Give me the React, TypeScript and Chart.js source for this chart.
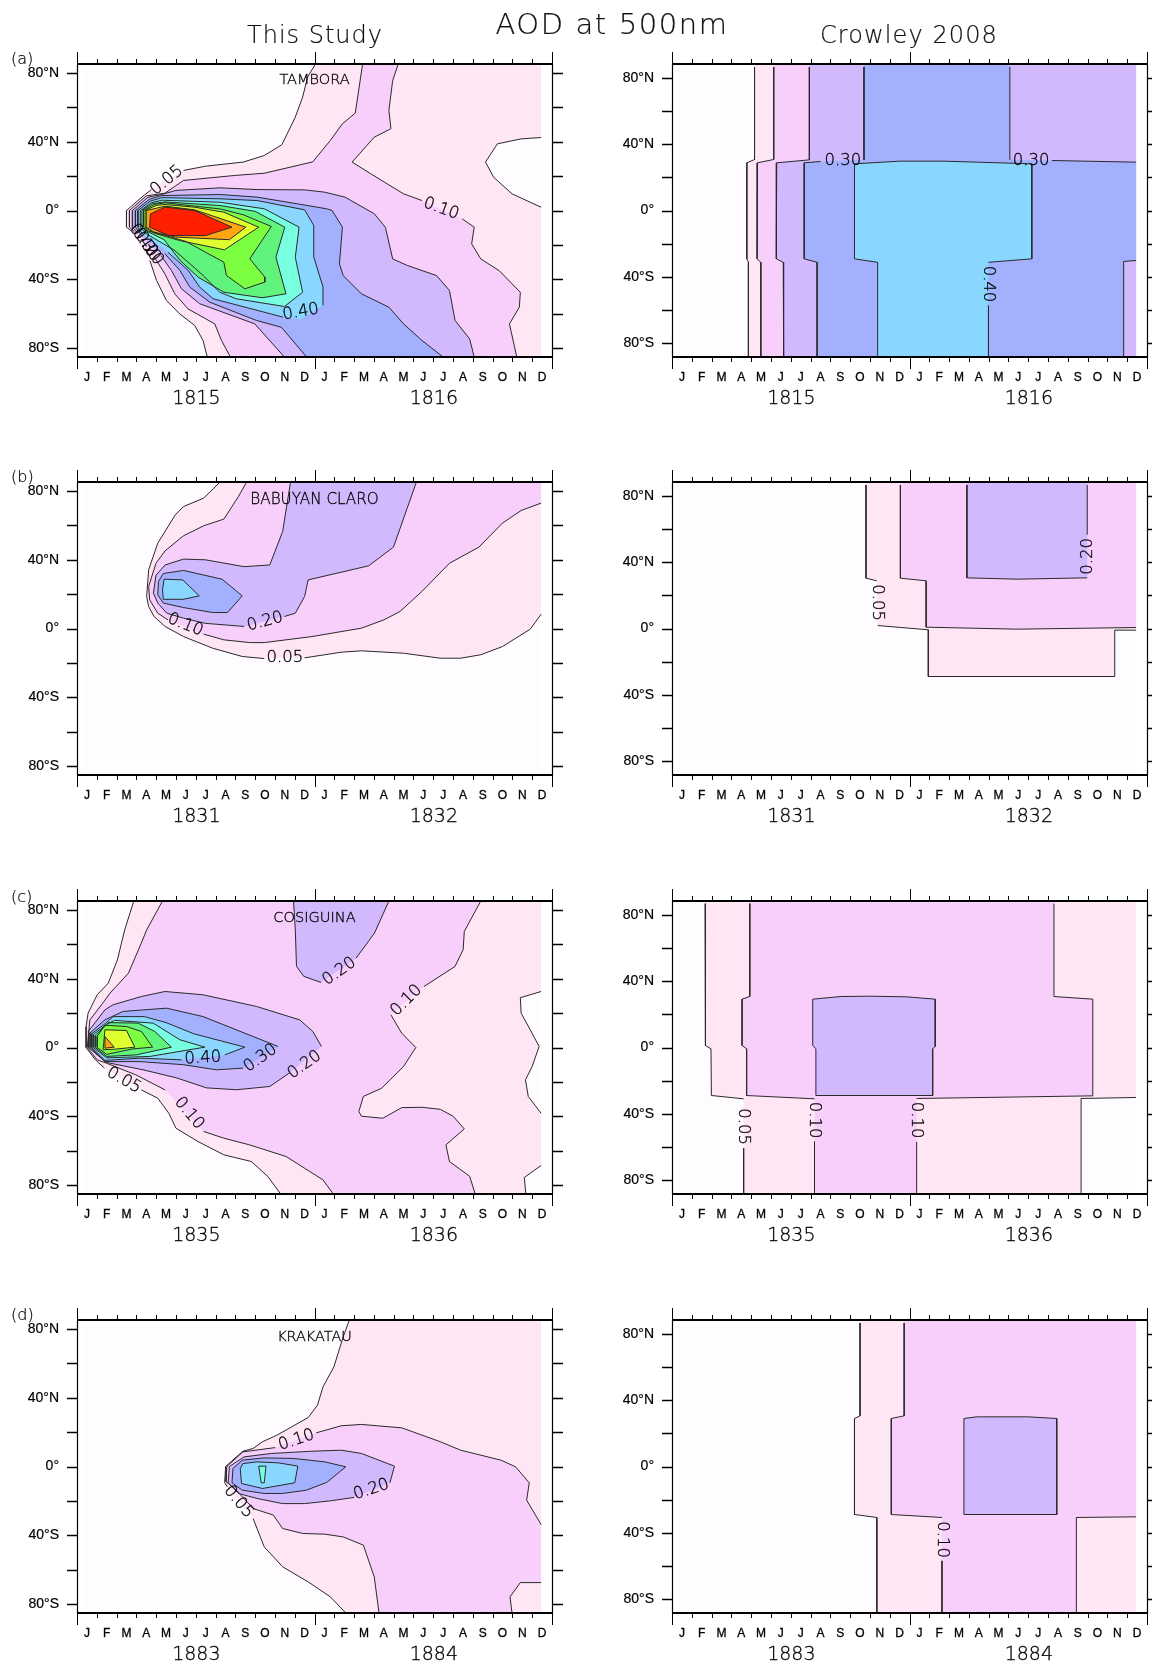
import React, { useEffect, useRef } from "react";
import { Chart, registerables } from "chart.js";

Chart.register(...registerables);

type Pt = [number, number];
type Edge = { edge: Pt[] };
type Piece = Pt[] | Edge;
type Region = { level: number; pieces: Piece[] };
type Lab = { text: string; x: number; lat: number; rot: number };

const edge = (...pts: Pt[]): Edge => ({ edge: pts });

const months = ["J", "F", "M", "A", "M", "J", "J", "A", "S", "O", "N", "D", "J", "F", "M", "A", "M", "J", "J", "A", "S", "O", "N", "D"];
const labelledLats = [80, 40, 0, -40, -80];
const minorLats = [60, 20, -20, -60];
const latNames: Record<string, string> = { "80": "80°N", "40": "40°N", "0": "0°", "-40": "40°S", "-80": "80°S" };
// fill per contour level: below .05, .05, .10, .20 ... 1.00
const levelColors = ["#FFFCFF", "#FFE6F5", "#F8CFFB", "#D2B8FC", "#A3B0FE", "#89D7FF", "#78FFDF", "#60F47C", "#7CFF40", "#E0FF30", "#FFA510", "#FF2000"];
const S = 0.28; // first data column
const E = 23.45; // last data column
const T = 85.3; // latitude limit, model panels
const R = 88.5; // latitude limit, Crowley panels

// ---------- (a) Tambora, this study
const tamboraModel: Region[] = [
  { level: 1, pieces: [
    [[12.05, T], [11.65, 77.7], [11.4, 66], [11.03, 54.4], [10.35, 38.3], [9.46, 32], [8.4, 28.2], [6.49, 25.8], [5.38, 23.3]],
    [[3.75, 12], [3.43, 9.3], [2.5, 0], [2.5, -9.7], [2.75, -12]],
    [[3.68, -29.1], [4.02, -40.8], [4.52, -52.4], [5.19, -60.2], [5.95, -67], [6.37, -75.7], [6.58, -T]],
    edge([E, -T], [E, T]),
  ] },
  { level: 0, pieces: [[[E, 42.5], [22.44, 41.7], [21.24, 38.8], [20.64, 28.2], [21.05, 19.4], [21.98, 9.7], [E, 1.9]]] },
  { level: 2, pieces: [
    [[14.43, T], [14.06, 56.7], [13.41, 50.5], [12.8, 40.8], [11.91, 28.3], [9.46, 21.7], [7.97, 20.4], [5.38, 17.5], [4.45, 10.1], [3.5, 8.5], [2.65, 0], [2.65, -9.7], [2.9, -12.5]],
    [[3.93, -27.6], [4.44, -36.9], [4.94, -48.5], [5.61, -57.3], [6.96, -66], [7.3, -75.7], [7.75, -T]],
    [[22.22, -T], [21.85, -66], [22.35, -56.3], [22.4, -47.6], [21.33, -35], [20.4, -28.2], [19.94, -19.4], [20.07, -9.7], [19.47, -4.9]],
    [[17.43, 5.8], [16.5, 9.7], [14.84, 21.4], [13.9, 28.2], [15.02, 42.7], [15.86, 47.6], [15.76, 58.3], [15.95, 75.7], [16.23, T]],
  ] },
  { level: 3, pieces: [
    [[20.07, -T], [19.84, -74.8], [19.1, -64], [18.82, -46.6], [18.17, -37.9], [16.69, -32], [15.95, -28.2], [15.58, -9.7], [15.02, -1.9], [13.54, 7.8], [12.5, 10.7], [11.5, 12], [9.09, 12.2], [7.23, 13.2], [5, 11.7], [4.27, 9.3], [3.58, 7.7], [2.8, 0], [2.8, -9.7], [3.05, -13]],
    [[4.24, -26.2], [4.77, -34.9], [5.28, -45.6], [6.2, -54.3], [8.98, -66], [10.48, -T]],
  ] },
  { level: 4, pieces: [
    [[18.5, -T], [17.43, -75.7], [16.5, -66], [15.76, -56.3], [14.37, -48.5], [13.45, -37.9], [13.26, -31.1], [13.41, -9.7], [12.89, 0], [12.61, 1], [11.13, 3.9], [9.09, 7.8], [7.23, 9.3], [4.27, 8.7], [3.65, 6.5], [2.95, 0], [2.95, -9.7], [3.2, -13.5]],
    [[4.44, -25.2], [5.2, -34.9], [5.7, -44.6], [6.71, -53.4], [9.06, -64], [10.33, -68], [11.6, -T]],
  ] },
  { level: 5, pieces: [
    [[12.43, -55.3], [12.43, -44.5], [11.96, -27], [11.96, -8.7], [11.5, 0.4], [9.09, 5.8], [7.23, 6.8], [4.3, 7.5], [3.7, 5.5], [3.08, 0], [3.08, -9.7], [3.3, -13.5]],
    [[4.6, -24.3], [5.62, -34.9], [6.2, -44.6], [6.88, -51.4], [10.41, -62.1]],
    edge([11.3, -63.5]),
  ] },
  { level: 6, pieces: [[[3.2, 0], [3.75, 4.5], [4.3, 6], [7.23, 4.8], [9.46, 1], [11.22, -9.7], [11.03, -27.2], [11.4, -47.6], [10.48, -55.9], [8.05, -51.4], [7.21, -47.6], [6.37, -37.8], [4.94, -23.3], [3.5, -13.5], [3.2, -9.7], [3.2, 0]]] },
  { level: 7, pieces: [[[3.28, 0], [3.8, 4], [4.45, 5], [7.23, 2.9], [9, -0.5], [10.5, -9.7], [10.05, -27.2], [10.56, -48.5], [9.36, -50.8], [7.42, -47.6], [6.12, -38.8], [5.2, -29], [4.4, -17], [3.6, -12.5], [3.28, -9.7], [3.28, 0]]] },
  { level: 8, pieces: [[[3.36, 0], [3.9, 3.5], [4.45, 4.5], [7.23, 0.9], [8.4, -2.5], [9.82, -9.3], [8.73, -28.1], [9.49, -38.8], [9.49, -41.7], [8.48, -45.6], [7.55, -37.8], [7.42, -30.1], [5.5, -18], [4.3, -14], [3.6, -12], [3.36, -9.7], [3.36, 0]]] },
  { level: 9, pieces: [[[3.44, 0], [4, 3], [4.45, 3.5], [5.94, 1.9], [7.42, -1], [9.18, -9.7], [7.45, -22.9], [5.19, -17.5], [3.9, -13.2], [3.44, -9.7], [3.44, 0]]] },
  { level: 10, pieces: [[[3.5, 0], [4.45, 2.5], [5.94, 0.4], [8.53, -9.7], [7.7, -17], [5, -15.5], [3.9, -12.6], [3.5, -9.7], [3.5, 0]]] },
  { level: 11, pieces: [[[3.71, -2], [4.45, 2], [5.94, 0], [7.83, -9.7], [6.49, -14.6], [4.64, -14.6], [3.67, -9.7], [3.71, -2]]] },
];
const tamboraModelLabels: Lab[] = [
  { text: "0.05", x: 4.54, lat: 17.5, rot: -40 },
  { text: "0.10", x: 18.4, lat: 1, rot: 20 },
  { text: "0.40", x: 11.31, lat: -59.2, rot: -10 },
  { text: "0.40", x: 3.35, lat: -17.5, rot: 55 },
  { text: "0.30", x: 3.5, lat: -20, rot: 55 },
  { text: "0.20", x: 3.65, lat: -22, rot: 55 },
];

// ---------- (a) Tambora, Crowley
const tamboraCrowley: Region[] = [
  { level: 1, pieces: [edge([4.17, R]), [[4.17, 86.7], [4.17, 30.8], [3.78, 28.8], [3.78, -29.2], [3.86, -31.3], [3.86, -R]], edge([E, -R], [E, R])] },
  { level: 2, pieces: [edge([5.14, R]), [[5.14, 86.7], [5.14, 30.8], [4.32, 28.8], [4.3, -29.2], [4.49, -31.3], [4.49, -R]], edge([E, -R], [E, R])] },
  { level: 3, pieces: [edge([6.94, R]), [[6.94, 86.7], [6.94, 30.6], [5.29, 28.8], [5.27, -29.2], [5.62, -31.3], [5.64, -R]], edge([E, -R], [E, R])] },
  { level: 4, pieces: [
    edge([9.7, R]), [[9.7, 86.7], [9.7, 30.6]],
    [[7.51, 29.6], [6.68, 28.8], [6.68, -29.2], [7.33, -31.3], [7.33, -R]],
    [[22.82, -R], [22.82, -30.8], [E, -30.2]],
    [[E, 29.2], [19.2, 30.2]],
    [[17.07, 30.6], [17.07, 86.7]], edge([17.07, R]),
  ] },
  { level: 5, pieces: [
    [[15.99, -57.5], [15.99, -R]],
    [[10.39, -R], [10.39, -31.3], [9.22, -29.2], [9.22, 28.2], [11.5, 29.8], [13.73, 29.8], [18.18, 28.2], [18.18, -29.2], [15.99, -31.3]],
  ] },
];
const tamboraCrowleyLabels: Lab[] = [
  { text: "0.30", x: 8.63, lat: 29.8, rot: 0 },
  { text: "0.30", x: 18.14, lat: 29.8, rot: 0 },
  { text: "0.40", x: 15.96, lat: -44.4, rot: 90 },
];

// ---------- (b) Babuyan Claro, this study
const babuyanModel: Region[] = [
  { level: 1, pieces: [
    [[7.23, T], [6.4, 75.9], [5.38, 71], [4.97, 66.2], [4.08, 49.7], [3.62, 34.2], [3.52, 18.6], [3.62, 12.8], [3.89, 7], [4.45, 1.2], [5.38, -4.7], [6.86, -11.5], [8.35, -16.3], [9.46, -17.5]],
    [[11.5, -17.1], [13.35, -13.8], [14.37, -13], [16.5, -14.4], [18.36, -17.3], [19.38, -17.3], [20.4, -15.3], [21.5, -10.5], [22.9, -0.4], [E, 8.3]],
    edge([E, T]),
  ] },
  { level: 2, pieces: [
    [[8.57, T], [8.16, 76.9], [7.42, 63.7], [6.4, 59.8], [5.38, 54], [4.45, 45.2], [3.99, 38], [3.62, 24.5], [3.67, 16.7], [4.08, 8.9], [4.6, 5]],
    [[6.4, -3.3], [7.42, -6.6], [8.72, -8.2], [9.46, -8.2], [11.87, -4.7], [14.37, 0.2], [15.5, 5], [16.32, 9.9], [17.43, 21.6], [18.82, 38], [20.31, 47.4], [21.5, 61.4], [22.44, 68.7], [E, 73]],
    edge([E, T]),
  ] },
  { level: 3, pieces: [
    [[10.79, T], [10.39, 56.5], [9.74, 37], [8.44, 36], [6.49, 40], [5.38, 40.4], [4.45, 37], [3.99, 31], [3.86, 20.6], [4.08, 14.8], [4.54, 8.9], [5.38, 6], [6.49, 3], [8.44, 1.2]],
    [[10.48, 7], [11.03, 8.9], [11.5, 18.6], [11.68, 28.3], [14.74, 36.5], [15.99, 47.4], [17.15, T]],
  ] },
  { level: 4, pieces: [[[4.36, 32], [5.38, 33.8], [7.33, 28.7], [8.35, 19], [7.6, 9.3], [6.86, 9.3], [5.38, 12.2], [4.36, 14.8], [4.08, 19.6], [4.12, 27.4], [4.36, 32]]] },
  { level: 5, pieces: [[[4.4, 28.7], [5.34, 28.3], [6.18, 19], [5.38, 17], [4.36, 17], [4.32, 22.5], [4.4, 28.7]]] },
];
const babuyanModelLabels: Lab[] = [
  { text: "0.10", x: 5.47, lat: 2.1, rot: 22 },
  { text: "0.20", x: 9.5, lat: 4, rot: -15 },
  { text: "0.05", x: 10.5, lat: -17.3, rot: 0 },
];

// ---------- (b) Babuyan Claro, Crowley
const babuyanCrowley: Region[] = [
  { level: 1, pieces: [edge([9.8, R]), [[9.8, 86.7], [9.8, 30.4], [10.35, 28.8]], [[10.39, 1.8], [12.95, -0.8], [12.95, -29], [22.37, -29], [22.37, -1], [E, -1]], edge([E, R])] },
  { level: 2, pieces: [edge([11.54, R]), [[11.54, 86.7], [11.54, 30.4], [12.84, 28.8], [12.84, 0.8], [17.44, -0.4], [E, 0.6]], edge([E, R])] },
  { level: 3, pieces: [edge([14.9, R]), [[14.9, 86.7], [14.9, 30.6], [17.44, 29.8], [20.98, 30.6]], [[20.98, 56.7], [20.98, 86.7]], edge([20.98, R])] },
];
const babuyanCrowleyLabels: Lab[] = [
  { text: "0.05", x: 10.39, lat: 15.7, rot: 90 },
  { text: "0.20", x: 20.98, lat: 43.5, rot: -90 },
];

// ---------- (c) Cosiguina, this study
const cosiguinaModel: Region[] = [
  { level: 1, pieces: [
    [[2.87, T], [2.41, 68.5], [2.04, 51], [1.58, 37.5], [1.02, 30.7], [0.56, 20], [0.46, 12.2], [0.46, 0], [0.93, -7.2], [1.39, -12]],
    [[3.25, -24.7], [4.08, -29.5], [4.64, -38.3], [5, -47], [6.12, -54.8], [7.42, -62.5], [8.81, -66.4], [9.64, -75.1], [10.29, -T]],
    edge([E, -T], [E, T]),
  ] },
  { level: 0, pieces: [[[E, 32.6], [22.4, 29], [22.44, 20], [22.9, 10.3], [23.35, 0.6], [23, -11], [22.66, -18.8], [22.8, -28.5], [E, -38.3]]] },
  { level: 0, pieces: [[[E, -68.7], [22.6, -75.7], [22.68, -T]], edge([E, -T])] },
  { level: 2, pieces: [
    [[4.32, T], [3.52, 68.5], [3.25, 60.8], [2.6, 43.3], [1.67, 31.7], [1.3, 25.8], [0.65, 16], [0.52, 0], [1.02, -7.2], [1.48, -9.1], [2.97, -15.9], [4.45, -24.7]],
    [[6.4, -48.9], [7.42, -52.8], [8.72, -56.7], [10.57, -63.5], [11.5, -70.3], [12.42, -77], [12.95, -T]],
    [[20.12, -T], [19.84, -75], [18.82, -66.4], [18.64, -56.7], [19.57, -47.4], [19, -40], [18.36, -36], [17.43, -34.8], [16.41, -35], [15.45, -41.2], [14.37, -40], [14.24, -37.3], [14.47, -28.5], [15.39, -23.7], [16.5, -11], [17.12, 0], [16.41, 8.3], [15.86, 19]],
    [[17.53, 35.5], [19.1, 47.2], [19.51, 56.9], [19.57, 67.6], [20.4, T]],
  ] },
  { level: 3, pieces: [
    [[12.35, 0.6], [11.92, 9.3], [11.25, 16.1], [9.07, 23.9], [6.36, 30.7], [4.44, 32.6], [3.26, 29.7], [1.82, 24.9], [1.41, 21.9], [0.58, 9.5], [0.58, 0], [1.48, -8.7], [3.34, -13], [5.03, -17.7], [6.54, -23.5], [8.05, -24.6], [9.74, -22.7], [10.75, -14.7]],
  ] },
  { level: 3, pieces: [
    [[10.94, T], [11.03, 68.5], [11.09, 47.2], [11.46, 41.4], [12.33, 37.9]],
    [[14.1, 52], [15.03, 66.6], [15.76, T]],
  ] },
  { level: 4, pieces: [
    [[10.16, 0.6], [6.37, 18], [4.52, 22.9], [2.33, 21], [1.41, 16.1], [0.66, 8.5], [0.66, 0], [1.41, -8.2], [3.17, -8.2], [5.36, -10], [7.05, -13], [8.39, -12]],
  ] },
  { level: 5, pieces: [
    [[8.48, 0.2], [5.9, 8], [4.5, 14.5], [3.4, 18], [1.83, 18], [1.46, 14.2], [0.74, 8], [0.74, 0], [1.41, -7.5], [3.17, -6.2], [5.28, -7.2]],
    [[7.47, -4.3], [8.48, 0.2]],
  ] },
  { level: 6, pieces: [[[6.46, 0.2], [5.2, 4.5], [3.85, 14.2], [1.9, 15.8], [1.5, 13.5], [0.82, 7.5], [0.82, 0], [1.5, -6], [3.68, -5.2], [6.46, 0.2]]] },
  { level: 7, pieces: [[[4.77, 0.2], [3.93, 9.3], [3.09, 14.2], [1.6, 14.5], [0.92, 7], [0.92, 0], [1.5, -5.2], [3, -4.3], [4.77, 0.2]]] },
  { level: 8, pieces: [[[3.82, 0.2], [3.26, 9.3], [2.5, 12.2], [1.41, 13], [1.02, 6.5], [1.02, 0], [1.5, -4], [2.83, -0.8], [3.82, 0.2]]] },
  { level: 9, pieces: [[[2.92, 0.2], [2.5, 9.9], [1.41, 10.3], [1.32, -1.3], [1.91, -1], [2.92, 0.2]]] },
  { level: 10, pieces: [[[1.41, 6.4], [1.88, 0.2], [1.41, -0.4], [1.41, 6.4]]] },
];
const cosiguinaModelLabels: Lab[] = [
  { text: "0.05", x: 2.37, lat: -19.2, rot: 30 },
  { text: "0.10", x: 5.66, lat: -38.3, rot: 50 },
  { text: "0.40", x: 6.36, lat: -6.2, rot: -3 },
  { text: "0.30", x: 9.27, lat: -6.2, rot: -35 },
  { text: "0.20", x: 11.5, lat: -10.1, rot: -35 },
  { text: "0.20", x: 13.26, lat: 44.3, rot: -35 },
  { text: "0.10", x: 16.65, lat: 27.4, rot: -45 },
];

// ---------- (c) Cosiguina, Crowley
const cosiguinaCrowley: Region[] = [
  { level: 1, pieces: [
    edge([1.67, R]), [[1.67, 86.9], [1.67, 29.8], [1.71, 1.2], [1.97, -0.8], [1.99, -29], [3.62, -31]],
    [[3.62, -60.9], [3.62, -R]],
    [[20.67, -R], [20.67, -30.8], [E, -30.2]], edge([E, R]),
  ] },
  { level: 2, pieces: [
    edge([3.93, R]), [[3.93, 86.9], [3.93, 30.8], [3.54, 29.2], [3.54, 1.2], [3.77, -0.8], [3.77, -29], [7.2, -31]],
    [[7.2, -56.9], [7.2, -R]],
    [[12.36, -R], [12.36, -56.9]],
    [[12.36, -30.8], [21.26, -29.2], [21.26, 29.2], [19.3, 30.8], [19.3, 86.9]], edge([19.3, R]),
  ] },
  { level: 3, pieces: [[[7.11, 29.2], [8.53, 30.8], [10.02, 31], [11.87, 30.6], [13.3, 29.2], [13.3, 0.6], [13.17, -0.8], [13.17, -29], [7.27, -29], [7.27, -0.8], [7.11, 1.2], [7.11, 29.2]]] },
];
const cosiguinaCrowleyLabels: Lab[] = [
  { text: "0.05", x: 3.62, lat: -47.8, rot: 90 },
  { text: "0.10", x: 7.2, lat: -43.8, rot: 90 },
  { text: "0.10", x: 12.36, lat: -43.8, rot: 90 },
];

// ---------- (d) Krakatau, this study
const krakatauModel: Region[] = [
  { level: 1, pieces: [
    [[13.76, T], [13.45, 75.5], [12.98, 58], [12.43, 46.4], [12.15, 35.7], [11.68, 28.5], [10.85, 23.1], [10.11, 18.3], [9.37, 14.4], [8.9, 10.5], [8.38, 8.9], [7.51, 0], [7.46, -9.3], [7.6, -12]],
    [[8.9, -30.3], [9.46, -46.8], [10.39, -58.4], [11.68, -67.2], [12.8, -75.9], [13.58, -T]],
    edge([E, -T], [E, T]),
  ] },
  { level: 2, pieces: [
    [[10.01, 11], [8.38, 8.5], [7.57, 0], [7.53, -8.9], [7.97, -12.8], [8.9, -24.5], [9.92, -28.3], [10.39, -36.1], [11.41, -39], [12.52, -39.4], [13.45, -41], [14.47, -45.8], [15.02, -64.3], [15.26, -T]],
    [[21.98, -T], [21.88, -75.9], [22.4, -67.6], [E, -67.6]],
    [[E, -33.8], [22.72, -19.6], [22.85, -9.5], [22.16, -0.2], [21.42, 3.7], [19.38, 9.5], [18.36, 14.4], [16.41, 22.5], [14.37, 24.5], [13.35, 23.7], [12.09, 19.6]],
  ] },
  { level: 3, pieces: [
    [[15.81, -9.5], [16.04, 0.2], [14.37, 7.6], [13.35, 9.5], [11.87, 8.9], [9.83, 7.6], [8.44, 5.6], [7.7, 0], [7.64, -9.5], [8.16, -15.7], [9.09, -18.6], [10.39, -21.6], [11.5, -21.6], [12.8, -20], [14, -18]],
  ] },
  { level: 4, pieces: [[[13.58, -0.2], [12.52, 2.7], [10.94, 4.7], [9.46, 5], [8.35, 3.7], [7.88, -1.2], [7.83, -9.5], [8.35, -13.8], [9.46, -15.7], [10.39, -15.7], [11.59, -13.8], [12.61, -9.3], [13.58, -0.2]]] },
  { level: 5, pieces: [[[11.16, 0.2], [10.2, 2.1], [9.09, 2.7], [8.38, 1.7], [8.25, -1.2], [8.31, -9.9], [9.37, -12.8], [11, -9.5], [11.16, 0.2]]] },
  { level: 6, pieces: [[[9.18, 0.2], [9.55, 0.2], [9.46, -9.5], [9.31, -9.5], [9.18, 0.2]]] },
];
const krakatauModelLabels: Lab[] = [
  { text: "0.10", x: 11.09, lat: 15.3, rot: -18 },
  { text: "0.20", x: 14.87, lat: -13.4, rot: -18 },
  { text: "0.05", x: 8.16, lat: -20.6, rot: 50 },
];

// ---------- (d) Krakatau, Crowley
const krakatauCrowley: Region[] = [
  { level: 1, pieces: [edge([9.5, R]), [[9.5, 86.7], [9.5, 30.6], [9.22, 29], [9.22, -29], [10.35, -30.8], [10.35, -R]], edge([E, -R], [E, R])] },
  { level: 2, pieces: [
    edge([11.73, R]), [[11.73, 86.7], [11.73, 30.6], [11.08, 29], [11.08, -29], [13.64, -30.8]],
    [[13.64, -57], [13.64, -R]],
    [[20.43, -R], [20.43, -30.8], [E, -30.4]], edge([E, R]),
  ] },
  { level: 3, pieces: [[[14.75, 29], [15.4, 30], [18, 30], [19.44, 29], [19.44, -29], [14.75, -29], [14.75, 29]]] },
];
const krakatauCrowleyLabels: Lab[] = [{ text: "0.10", x: 13.64, lat: -44.2, rot: 90 }];

type Panel = {
  left: number; top: number; col: number; latLimit: number; regions: Region[]; labels: Lab[];
  years: [string, string]; name?: string; nameX?: number; nameLat?: number; nameSize?: number;
};

const panels: Panel[] = [
  { left: 0, top: 64, col: 0, latLimit: T, regions: tamboraModel, labels: tamboraModelLabels, years: ["1815", "1816"], name: "TAMBORA", nameX: 12, nameLat: 75.6, nameSize: 14.5 },
  { left: 576, top: 64, col: 1, latLimit: R, regions: tamboraCrowley, labels: tamboraCrowleyLabels, years: ["1815", "1816"] },
  { left: 0, top: 482, col: 0, latLimit: T, regions: babuyanModel, labels: babuyanModelLabels, years: ["1831", "1832"], name: "BABUYAN CLARO", nameX: 12, nameLat: 74.8, nameSize: 15.2 },
  { left: 576, top: 482, col: 1, latLimit: R, regions: babuyanCrowley, labels: babuyanCrowleyLabels, years: ["1831", "1832"] },
  { left: 0, top: 901, col: 0, latLimit: T, regions: cosiguinaModel, labels: cosiguinaModelLabels, years: ["1835", "1836"], name: "COSIGUINA", nameX: 12, nameLat: 75.1, nameSize: 14.6 },
  { left: 576, top: 901, col: 1, latLimit: R, regions: cosiguinaCrowley, labels: cosiguinaCrowleyLabels, years: ["1835", "1836"] },
  { left: 0, top: 1320, col: 0, latLimit: T, regions: krakatauModel, labels: krakatauModelLabels, years: ["1883", "1884"], name: "KRAKATAU", nameX: 12, nameLat: 75.1, nameSize: 14.4 },
  { left: 576, top: 1320, col: 1, latLimit: R, regions: krakatauCrowley, labels: krakatauCrowleyLabels, years: ["1883", "1884"] },
];

const thin = '"DejaVu Sans Light","DejaVu Sans",sans-serif';
const CANVAS_W = 576;
const PAD_TOP = 40;
const PLOT_H = 293;
const PLOT_W = 475;
const PAD_BOTTOM = 53;

function piecePts(p: Piece): Pt[] {
  return Array.isArray(p) ? p : p.edge;
}

function buildDatasets(panel: Panel) {
  const lim = panel.latLimit;
  const toXY = (pts: Pt[]) => pts.map(([x, y]) => ({ x, y }));
  const base: Pt[] = [[S, lim], [E, lim], [E, -lim], [S, -lim], [S, lim]];
  const fillSets: any[] = [
    { data: toXY(base), showLine: true, pointRadius: 0, borderWidth: 0, fill: "shape", backgroundColor: levelColors[0], tension: 0 },
  ];
  const lineSets: any[] = [];
  panel.regions.forEach((r) => {
    const all: Pt[] = r.pieces.flatMap(piecePts);
    fillSets.push({ data: toXY([...all, all[0]]), showLine: true, pointRadius: 0, borderWidth: 0, fill: "shape", backgroundColor: levelColors[r.level], tension: 0 });
    r.pieces.forEach((p) => {
      if (Array.isArray(p)) lineSets.push({ data: toXY(p), showLine: true, pointRadius: 0, borderWidth: 1, borderColor: "#2a2a2a", fill: false, tension: 0 });
    });
  });
  // chart.js paints the first dataset last
  return [...lineSets, ...fillSets.reverse()];
}

const framePlugin = (panel: Panel) => ({
  id: "frame",
  afterDraw(chart: any) {
    const { ctx, chartArea: a, scales } = chart;
    const sx = scales.x;
    const sy = scales.y;
    ctx.save();
    ctx.strokeStyle = "#000";
    // month ticks, top and bottom
    months.concat("end").forEach((_: string, i: number) => {
      const px = Math.round(sx.getPixelForValue(i)) + 0.5;
      const major = i % 12 === 0;
      ctx.lineWidth = 1;
      ctx.beginPath();
      ctx.moveTo(px, a.top - (major ? 12 : 5));
      ctx.lineTo(px, a.top);
      ctx.moveTo(px, a.bottom);
      ctx.lineTo(px, a.bottom + (major ? 12 : 5));
      ctx.stroke();
    });
    // latitude ticks, left and right
    [...labelledLats, ...minorLats].forEach((lat) => {
      const py = Math.round(sy.getPixelForValue(lat)) + 0.5;
      ctx.lineWidth = labelledLats.includes(lat) ? 1.6 : 1.3;
      ctx.beginPath();
      ctx.moveTo(a.left - 10, py);
      ctx.lineTo(a.left, py);
      ctx.moveTo(a.right, py);
      ctx.lineTo(a.right + 11, py);
      ctx.stroke();
    });
    // frame
    ctx.lineWidth = 1.2;
    ctx.beginPath();
    ctx.moveTo(a.left + 0.5, a.top);
    ctx.lineTo(a.left + 0.5, a.bottom);
    ctx.moveTo(a.right + 0.5, a.top);
    ctx.lineTo(a.right + 0.5, a.bottom);
    ctx.stroke();
    ctx.lineWidth = 2;
    ctx.beginPath();
    ctx.moveTo(a.left, a.top);
    ctx.lineTo(a.right + 1, a.top);
    ctx.moveTo(a.left, a.bottom);
    ctx.lineTo(a.right + 1, a.bottom);
    ctx.stroke();
    // contour labels
    ctx.fillStyle = "#000";
    ctx.strokeStyle = "#000";
    ctx.lineWidth = 0.3;
    ctx.font = `16.5px ${thin}`;
    ctx.textAlign = "center";
    ctx.textBaseline = "middle";
    panel.labels.forEach((l) => {
      ctx.save();
      ctx.translate(sx.getPixelForValue(l.x), sy.getPixelForValue(l.lat));
      ctx.rotate((l.rot * Math.PI) / 180);
      ctx.fillText(l.text, 0, 0);
      ctx.strokeText(l.text, 0, 0);
      ctx.restore();
    });
    // volcano name
    if (panel.name) {
      ctx.font = `${panel.nameSize}px ${thin}`;
      const nx = sx.getPixelForValue(panel.nameX);
      const ny = sy.getPixelForValue(panel.nameLat);
      ctx.fillText(panel.name, nx, ny);
      ctx.strokeText(panel.name, nx, ny);
    }
    ctx.restore();
  },
});

function PanelChart({ panel }: { panel: Panel }) {
  const ref = useRef<HTMLCanvasElement | null>(null);
  useEffect(() => {
    const plotLeft = panel.col === 0 ? 77 : 96;
    const noPad = (s: any) => {
      s.paddingLeft = 0;
      s.paddingRight = 0;
      s.paddingTop = 0;
      s.paddingBottom = 0;
    };
    const chart = new Chart(ref.current as HTMLCanvasElement, {
      type: "scatter",
      data: { datasets: buildDatasets(panel) as any },
      plugins: [framePlugin(panel) as any],
      options: {
        animation: false,
        responsive: false,
        devicePixelRatio: 1,
        events: [],
        layout: { padding: { top: PAD_TOP, right: CANVAS_W - plotLeft - PLOT_W, left: 0, bottom: 0 } },
        plugins: { legend: { display: false }, title: { display: false }, tooltip: { enabled: false } },
        scales: {
          x: {
            type: "linear", min: 0, max: 24, position: "bottom", weight: 0,
            grid: { display: false, drawTicks: false }, border: { display: false },
            afterBuildTicks: (s: any) => { s.ticks = months.map((_, i) => ({ value: i + 0.5 })); },
            afterFit: (s: any) => { s.height = 27; noPad(s); },
            ticks: {
              autoSkip: false, maxRotation: 0, padding: 13, color: "#000",
              textStrokeColor: "#000", textStrokeWidth: 0.3,
              font: { family: "Liberation Sans", size: 12 },
              callback: (_: any, i: number) => months[i],
            },
          },
          x2: {
            type: "linear", min: 0, max: 24, position: "bottom", weight: 1,
            grid: { display: false, drawTicks: false }, border: { display: false },
            afterBuildTicks: (s: any) => { s.ticks = [{ value: 6.03 }, { value: 18.03 }]; },
            afterFit: (s: any) => { s.height = PAD_BOTTOM - 27; noPad(s); },
            ticks: {
              autoSkip: false, maxRotation: 0, padding: 4, color: "#000",
              textStrokeColor: "#000", textStrokeWidth: 0.3,
              font: { family: thin, size: 19 },
              callback: (_: any, i: number) => panel.years[i],
            },
          },
          y: {
            type: "linear", min: -panel.latLimit, max: panel.latLimit, position: "left",
            grid: { display: false, drawTicks: false }, border: { display: false },
            afterBuildTicks: (s: any) => { s.ticks = labelledLats.map((value) => ({ value })); },
            afterFit: (s: any) => { s.width = plotLeft; noPad(s); },
            ticks: {
              autoSkip: false, padding: 18, color: "#000",
              textStrokeColor: "#000", textStrokeWidth: 0.2,
              font: { family: "Liberation Sans", size: 14 },
              callback: (v: any) => latNames[String(v)],
            },
          },
        },
      } as any,
    });
    return () => chart.destroy();
  }, [panel]);
  return (
    <canvas
      ref={ref}
      width={CANVAS_W}
      height={PAD_TOP + PLOT_H + PAD_BOTTOM}
      style={{ position: "absolute", left: panel.left, top: panel.top - PAD_TOP, width: CANVAS_W, height: PAD_TOP + PLOT_H + PAD_BOTTOM }}
    />
  );
}

const headings = [
  { text: "This Study", cx: 315, cy: 36, size: 24, spacing: 1 },
  { text: "AOD at 500nm", cx: 612, cy: 24, size: 29, spacing: 1.6 },
  { text: "Crowley 2008", cx: 909, cy: 36, size: 24, spacing: 1.1 },
];
const panelLetters = [
  { text: "(a)", top: 59 },
  { text: "(b)", top: 477 },
  { text: "(c)", top: 897 },
  { text: "(d)", top: 1315 },
];

export default function App() {
  return (
    <div style={{ position: "absolute", left: 0, top: 0, width: 1152, height: 1666, overflow: "hidden", background: "#fff" }}>
      {panels.map((p, i) => (
        <PanelChart key={i} panel={p} />
      ))}
      {headings.map((h) => (
        <div key={h.text} style={{ position: "absolute", left: h.cx - 200, width: 400, top: h.cy - h.size * 0.7, lineHeight: `${h.size * 1.4}px`, textAlign: "center", fontFamily: thin, fontSize: h.size, letterSpacing: h.spacing, color: "#111", whiteSpace: "pre", WebkitTextStroke: "0.2px #111" }}>
          {h.text}
        </div>
      ))}
      {panelLetters.map((l) => (
        <div key={l.text} style={{ position: "absolute", left: 11, top: l.top - 10, lineHeight: "20px", fontFamily: thin, fontSize: 16, color: "#000", WebkitTextStroke: "0.2px #000" }}>
          {l.text}
        </div>
      ))}
    </div>
  );
}
